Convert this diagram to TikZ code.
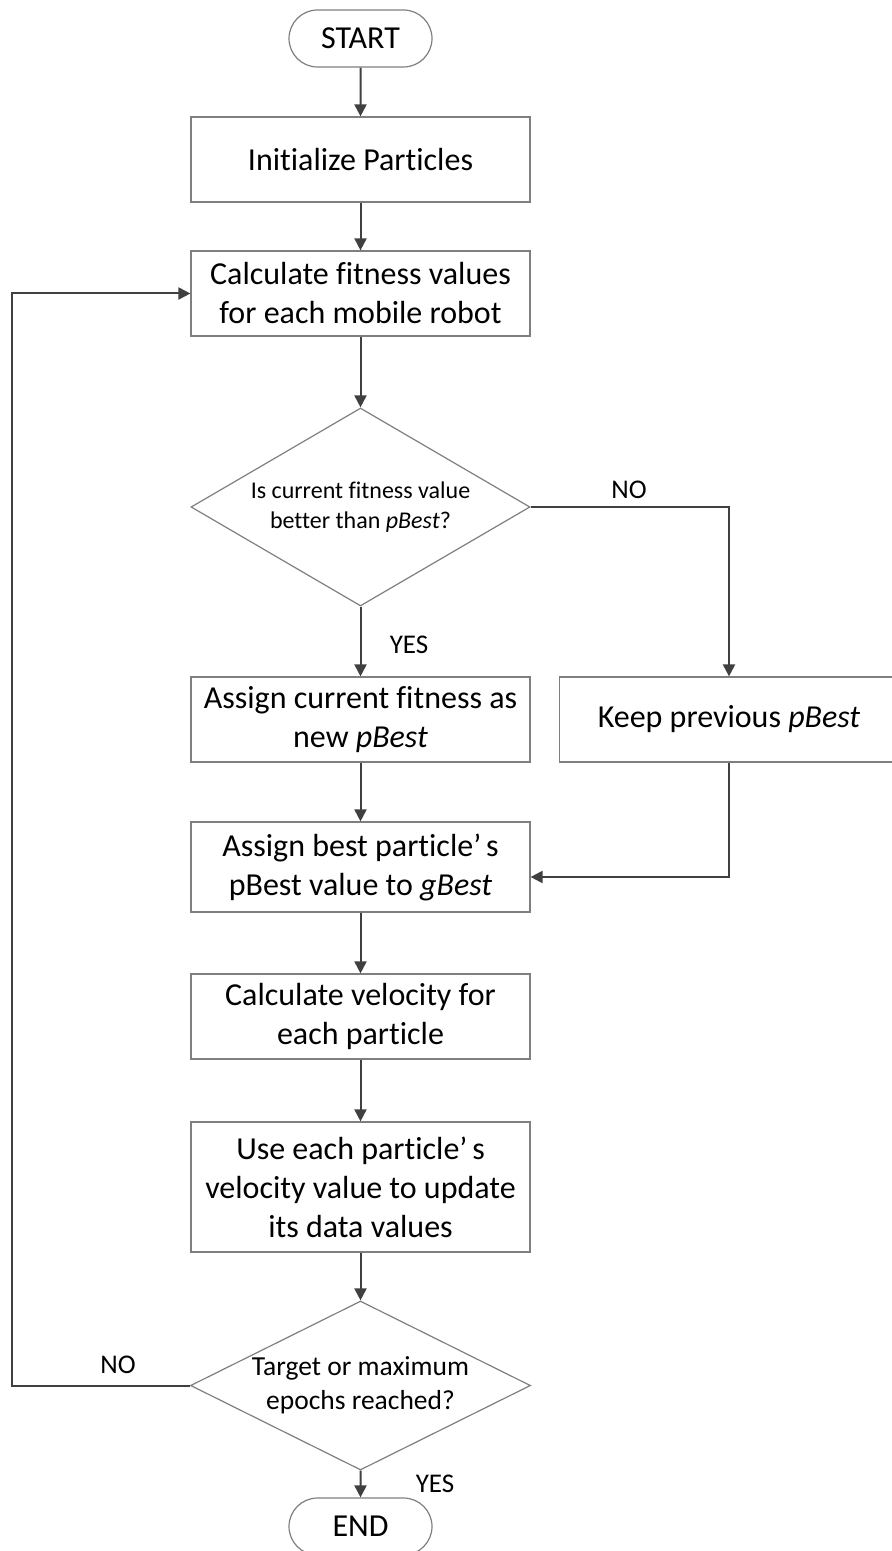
\documentclass[tikz,border=0pt]{standalone}
\usepackage{fontspec}
\setmainfont{Carlito}[Ligatures=NoCommon]
\usetikzlibrary{shapes.geometric,shapes.misc,arrows.meta}
\definecolor{boxline}{HTML}{7F7F7F}
\definecolor{flowline}{HTML}{404040}
\newcommand{\apos}{’\hspace{0.15em}}

\begin{document}
\begin{tikzpicture}[x=0.5pt,y=-0.5pt,
  boxtext/.style={font=\fontsize{16}{19.5}\selectfont},
  procbox/.style={draw=boxline, line width=0.6pt, minimum width=169.5pt,
    minimum height=42.5pt, inner sep=0pt, align=center, boxtext},
  terminal/.style={rounded rectangle, draw=boxline, line width=0.6pt,
    minimum width=71.5pt, minimum height=28.5pt, inner sep=0pt, boxtext},
  decision/.style={diamond, draw=boxline, line width=0.6pt, inner sep=0pt,
    align=center},
  flow/.style={draw=flowline, line width=1pt,
    -{Triangle[length=6pt,width=6pt]}},
  lbl/.style={font=\fontsize{13.5}{16}\selectfont, inner sep=0pt}
]
\clip (0,0) rectangle (892,1551);

% main column
\node[terminal] (start) at (360.5,38.5) {START};
\node[procbox] (init) at (360.5,159.5) {Initialize Particles};
\node[procbox] (fit) at (360.5,293.5) {Calculate fitness values\\for each mobile robot};
\node[decision, shape aspect=1.71, minimum width=169.5pt, minimum height=99pt,
  font=\fontsize{12}{14.6}\selectfont] (dec1) at (360.5,507)
  {Is current fitness value\\better than \textit{pBest}?};
\node[procbox] (assign) at (360.5,719.5) {Assign current fitness as\\new \textit{pBest}};
\node[procbox] (keep) at (729,719.5) {Keep previous \textit{pBest}};
\node[procbox, minimum height=45pt] (gbest) at (360.5,867)
  {Assign best particle\apos s\\pBest value to \textit{gBest}};
\node[procbox] (vel) at (360.5,1016.5) {Calculate velocity for\\each particle};
\node[procbox, minimum height=65pt] (upd) at (360.5,1187)
  {Use each particle\apos s\\velocity value to update\\its data values};
\node[decision, shape aspect=2, minimum width=170pt, minimum height=84.5pt,
  font=\fontsize{13.75}{16.8}\selectfont] (dec2) at (360.5,1385.5)
  {Target or maximum\\epochs reached?};
\node[terminal] (end) at (360.5,1526.5) {END};

% branch labels
\node[lbl] (no1) at (629,490) {NO};
\node[lbl] (yes1) at (409,645) {YES};
\node[lbl] (no2) at (118,1365) {NO};
\node[lbl] (yes2) at (435,1483.5) {YES};

% connectors
\draw[flow] (start) -- (init);
\draw[flow] (init) -- (fit);
\draw[flow] (fit) -- (dec1);
\draw[flow] (dec1) -- (assign);
\draw[flow] (dec1.east) -- (keep.north |- dec1.east) -- (keep.north);
\draw[flow] (assign) -- (gbest);
\coordinate (kb) at (729,877);
\draw[flow] (keep.south) -- (kb) -- (gbest.east |- kb);
\draw[flow] (gbest) -- (vel);
\draw[flow] (vel) -- (upd);
\draw[flow] (upd) -- (dec2);
\draw[flow] (dec2) -- (end);
\coordinate (loopc) at (12,1385.5);
\draw[flow] (dec2.west) -- (loopc) |- (fit.west);
\end{tikzpicture}
\end{document}
